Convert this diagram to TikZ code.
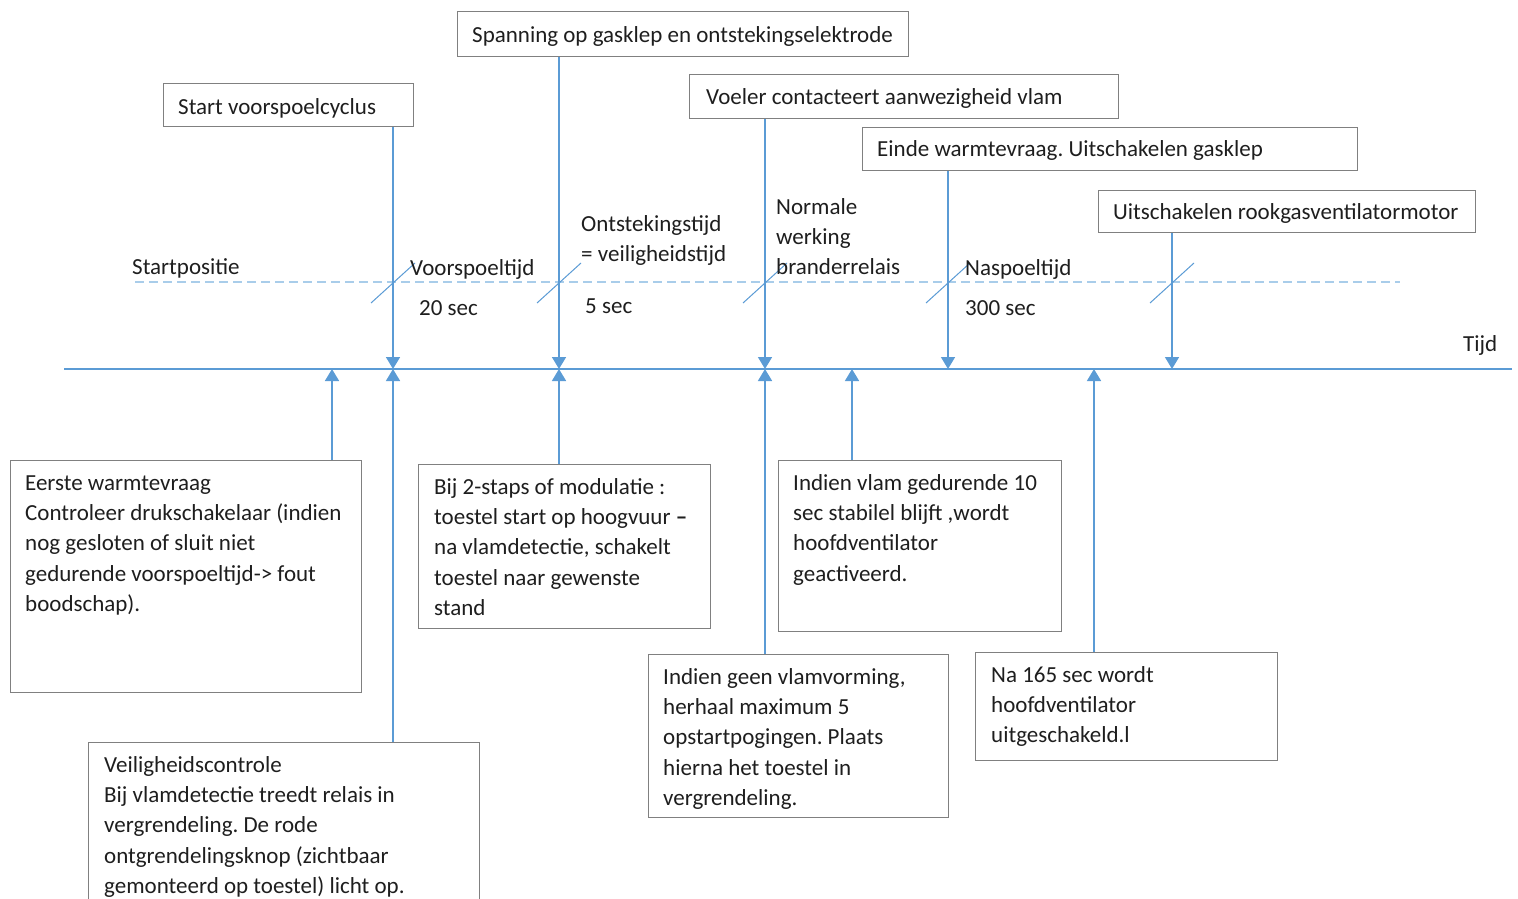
\documentclass[tikz,border=0pt]{standalone}
\usepackage{fontspec}
\setmainfont{Carlito}
\usetikzlibrary{arrows.meta,calc}
\definecolor{lineblue}{HTML}{5B9BD5}
\definecolor{dashblue}{HTML}{A9CDEA}
\definecolor{boxgray}{HTML}{808080}
\definecolor{txt}{HTML}{1E1E1E}
\begin{document}
\frenchspacing
\begin{tikzpicture}[x=1pt,y=-1pt,
  every node/.style={font=\fontsize{23}{30.3}\selectfont\frenchspacing, text=txt},
  boxframe/.style={draw=boxgray, line width=0.9pt, anchor=north west, inner sep=0pt},
  toptext/.style={anchor=base west, inner sep=0pt},
  boxtext/.style={anchor=north west, inner sep=0pt, align=left},
  lbl/.style={anchor=base west, inner sep=0pt},
  mlbl/.style={anchor=north west, inner sep=0pt, align=left},
  conn/.style={draw=lineblue, line width=1.6pt, -{Triangle[width=14pt,length=12pt]}},
  slash/.style={draw=lineblue, line width=1pt},
]
\useasboundingbox (0,0) rectangle (1518,899);
\clip (0,0) rectangle (1518,899);

% timeline and dashed line
\coordinate (axL) at (64,369);
\coordinate (axR) at (1512,369);
\draw[lineblue, line width=1.3pt] (axL) -- (axR);
\coordinate (dsL) at (135,282);
\coordinate (dsR) at (1400,282);
\draw[dashblue, line width=1.2pt, dash pattern=on 9pt off 5pt] (dsL) -- (dsR);

% axis points
\coordinate (d1) at (393,369);
\coordinate (d2) at (559,369);
\coordinate (d3) at (765,369);
\coordinate (d4) at (948,369);
\coordinate (d5) at (1172,369);
\coordinate (u1) at (332,369);
\coordinate (u2) at (393,369);
\coordinate (u3) at (559,369);
\coordinate (u4) at (765,369);
\coordinate (u5) at (852,369);
\coordinate (u6) at (1094,369);

% top boxes
\node[boxframe, minimum width=250pt, minimum height=43pt] (s1) at (163,83) {};
\node[toptext] (s1t) at (178,114) {Start voorspoelcyclus};
\node[boxframe, minimum width=451pt, minimum height=45pt] (s2) at (457,11) {};
\node[toptext] (s2t) at (472,43) {Spanning op gasklep en ontstekingselektrode};
\node[boxframe, minimum width=429pt, minimum height=44pt] (s3) at (689,74) {};
\node[toptext] (s3t) at (706,104.5) {Voeler contacteert aanwezigheid vlam};
\node[boxframe, minimum width=495pt, minimum height=43pt] (s4) at (862,127) {};
\node[toptext] (s4t) at (877,156.5) {Einde warmtevraag. Uitschakelen gasklep};
\node[boxframe, minimum width=377pt, minimum height=42pt] (s5) at (1098,190) {};
\node[toptext] (s5t) at (1113,219) {Uitschakelen rookgasventilatormotor};

% slashes
\foreach \c in {d1,d2,d3,d4,d5}{
  \draw[slash] ($(\c |- dsL)+(-22,21)$) -- ($(\c |- dsL)+(22,-19)$);
}

% down connectors
\draw[conn] (s1.south -| d1) -- (d1);
\draw[conn] (s2.south -| d2) -- (d2);
\draw[conn] (s3.south -| d3) -- (d3);
\draw[conn] (s4.south -| d4) -- (d4);
\draw[conn] (s5.south -| d5) -- (d5);

% labels
\node[lbl] (l1) at (132,274) {Startpositie};
\node[lbl] (l2) at (410,275) {Voorspoeltijd};
\node[lbl] (l3) at (419,315) {20 sec};
\node[mlbl] (l4) at (581,209.8) {\strut Ontstekingstijd\\= veiligheidstijd};
\node[lbl] (l5) at (585,313) {5 sec};
\node[mlbl] (l6) at (776,192.8) {\strut Normale\\werking\\branderrelais};
\node[lbl] (l7) at (965,275) {Naspoeltijd};
\node[lbl] (l8) at (965,315) {300 sec};
\node[lbl] (l9) at (1463,351) {Tijd};

% bottom boxes
\node[boxframe, minimum width=351pt, minimum height=232pt] (b1) at (10,460) {};
\node[boxtext] (b1t) at (25,468.8) {\strut Eerste warmtevraag\\Controleer drukschakelaar (indien\\nog gesloten of sluit niet\\gedurende voorspoeltijd-> fout\\boodschap).};

\node[boxframe, minimum width=391pt, minimum height=175pt] (b6) at (88,742) {};
\node[boxtext] (b6t) at (104,750.8) {\strut Veiligheidscontrole\\Bij vlamdetectie treedt relais in\\vergrendeling. De rode\\ontgrendelingsknop (zichtbaar\\gemonteerd op toestel) licht op.};

\node[boxframe, minimum width=292pt, minimum height=164pt] (b2) at (418,464) {};
\node[boxtext] (b2t) at (434,472.8) {\strut Bij 2-staps of modulatie :\\toestel start op hoogvuur \textbf{–}\\na vlamdetectie, schakelt\\toestel naar gewenste\\stand};

\node[boxframe, minimum width=300pt, minimum height=163pt] (b4) at (648,654) {};
\node[boxtext] (b4t) at (663,662.8) {\strut Indien geen vlamvorming,\\herhaal maximum 5\\opstartpogingen. Plaats\\hierna het toestel in\\vergrendeling.};

\node[boxframe, minimum width=283pt, minimum height=171pt] (b3) at (778,460) {};
\node[boxtext] (b3t) at (793,468.8) {\strut Indien vlam gedurende 10\\sec stabilel blijft ,wordt\\hoofdventilator\\geactiveerd.};

\node[boxframe, minimum width=302pt, minimum height=108pt] (b5) at (975,652) {};
\node[boxtext] (b5t) at (991,660.8) {\strut Na 165 sec wordt\\hoofdventilator\\uitgeschakeld.l};

% up connectors
\draw[conn] (b1.north -| u1) -- (u1);
\draw[conn] (b6.north -| u2) -- (u2);
\draw[conn] (b2.north -| u3) -- (u3);
\draw[conn] (b4.north -| u4) -- (u4);
\draw[conn] (b3.north -| u5) -- (u5);
\draw[conn] (b5.north -| u6) -- (u6);
\end{tikzpicture}
\end{document}
